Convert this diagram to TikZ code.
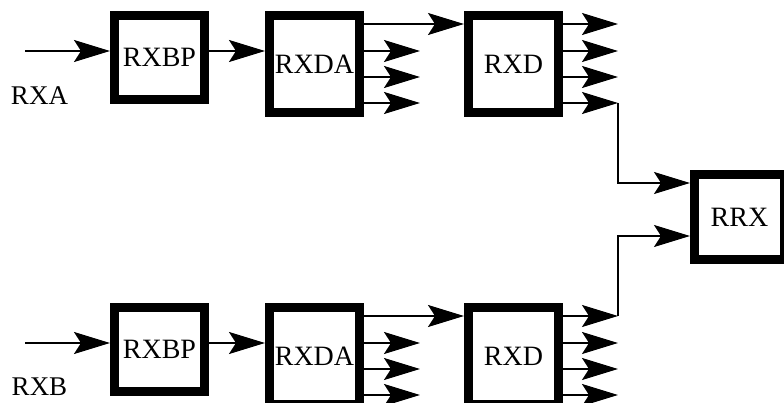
\documentclass[tikz,border=0pt]{standalone}
\usepackage{fontspec}
\setmainfont{Liberation Serif}
\usetikzlibrary{positioning, arrows.meta}

\begin{document}
\begin{tikzpicture}[
  x=1pt, y=-1pt,
  blk/.style={draw, line width=9pt, minimum width=90pt, minimum height=84pt, inner sep=0pt, font=\fontsize{28}{30}\selectfont},
  tall/.style={blk, minimum height=97pt},
  lbl/.style={font=\fontsize{27}{30}\selectfont},
  tip/.tip={Stealth[length=36pt, width=22pt, inset=7pt]},
  op/.style={-tip, line width=1.8pt}
]
  \useasboundingbox (0,0) rectangle (784,403);
  % channel A
  \node[blk] (rxbpA) at (159.5,57.5) {RXBP};
  \node[tall, right=56pt of rxbpA.north east, anchor=north west] (rxdaA) {RXDA};
  \node[tall, right=100pt of rxdaA.north east, anchor=north west] (rxdA) {RXD};
  \node[lbl] (rxa) at (39.5,95.5) {RXA};
  \coordinate (inA) at (25,51);
  % channel B
  \node[blk, below=199pt of rxbpA] (rxbpB) {RXBP};
  \node[tall, right=56pt of rxbpB.north east, anchor=north west] (rxdaB) {RXDA};
  \node[tall, right=100pt of rxdaB.north east, anchor=north west] (rxdB) {RXD};
  \node[lbl] (rxb) at (39.5,387) {RXB};
  \coordinate (inB) at (25,343);
  % combiner
  \node[blk, minimum height=85pt] (rrx) at (739.5,217) {RRX};

  \draw[op] (inA) -- (inA -| rxbpA.west);
  \draw[op] ([yshift=6.5pt]rxbpA.east) -- ([yshift=6.5pt]rxbpA.east -| rxdaA.west);
  \draw[op] ([yshift=40pt]rxdaA.east) -- ([yshift=40pt]rxdaA.east -| rxdA.west);
  \foreach \dy in {13,-13,-39}
    \draw[op] ([yshift=\dy pt]rxdaA.east) -- ++(56,0);
  \foreach \dy in {40,13,-13}
    \draw[op] ([yshift=\dy pt]rxdA.east) -- ++(55,0);
  \draw[op] ([yshift=-39pt]rxdA.east) -- ++(55,0) coordinate (tapA);
  \draw[op] (tapA) |- ([yshift=34pt]rrx.west);

  \draw[op] (inB) -- (inB -| rxbpB.west);
  \draw[op] ([yshift=6.5pt]rxbpB.east) -- ([yshift=6.5pt]rxbpB.east -| rxdaB.west);
  \draw[op] ([yshift=40pt]rxdaB.east) -- ([yshift=40pt]rxdaB.east -| rxdB.west);
  \foreach \dy in {13,-13,-39}
    \draw[op] ([yshift=\dy pt]rxdaB.east) -- ++(56,0);
  \foreach \dy in {13,-13,-39}
    \draw[op] ([yshift=\dy pt]rxdB.east) -- ++(55,0);
  \draw[op] ([yshift=40pt]rxdB.east) -- ++(55,0) coordinate (tapB);
  \draw[op] (tapB) |- ([yshift=-19pt]rrx.west);
\end{tikzpicture}
\end{document}
